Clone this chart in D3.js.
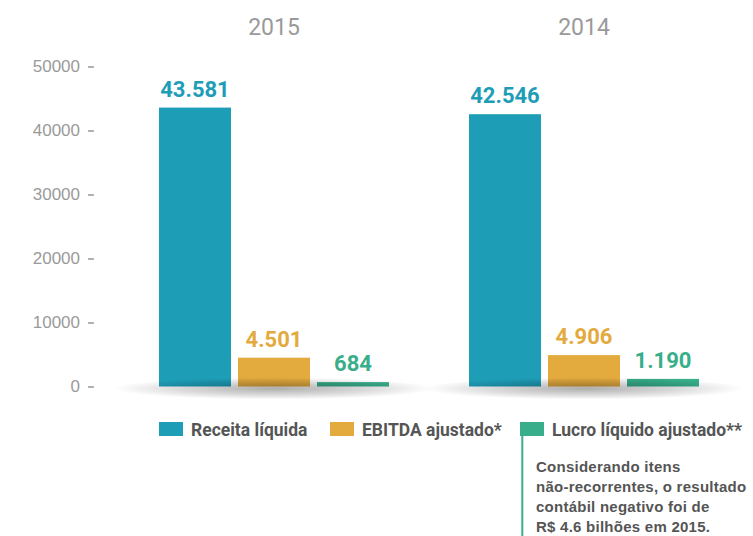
<!DOCTYPE html>
<html><head><meta charset="utf-8">
<script src="https://cdn.jsdelivr.net/npm/d3@7"></script>
<style>
html,body{margin:0;padding:0;background:#fff;}
svg{display:block;}
</style></head>
<body>
<svg id="chart" width="753" height="536"></svg>
<script>
const years = ["2015", "2014"];
const series = ["Receita líquida", "EBITDA ajustado*", "Lucro líquido ajustado**"];
const values2015 = [43581, 4501, 684];
const values2014 = [42546, 4906, 1190];
const valueLabels2015 = ["43.581", "4.501", "684"];
const valueLabels2014 = ["42.546", "4.906", "1.190"];
const colors = ["#1e9db7", "#e3aa3e", "#38ae8a"];
const yTicks = [0, 10000, 20000, 30000, 40000, 50000];
const noteLines = ["Considerando itens", "não-recorrentes, o resultado", "contábil negativo foi de", "R$ 4.6 bilhões em 2015."];

const svg = d3.select("#chart");
const defs = svg.append("defs");
const grad = defs.append("radialGradient").attr("id", "shadow");
grad.append("stop").attr("offset", "0%").attr("stop-color", "#000").attr("stop-opacity", 0.32);
grad.append("stop").attr("offset", "60%").attr("stop-color", "#000").attr("stop-opacity", 0.14);
grad.append("stop").attr("offset", "100%").attr("stop-color", "#000").attr("stop-opacity", 0);

const y = d3.scaleLinear().domain([0, 50000]).range([386.5, 66.5]);
const x0 = d3.scaleBand().domain(years).range([119, 739]).paddingInner(80/310).paddingOuter(40/310);
const x1 = d3.scaleBand().domain(series).range([0, x0.bandwidth()]).paddingInner(7/79);

// y axis
const yAxis = d3.axisLeft(y).tickValues(yTicks).tickSize(6).tickPadding(8).tickFormat(d3.format("d"));
const ga = svg.append("g").attr("transform", "translate(94,0)").call(yAxis);
ga.select(".domain").remove();
ga.selectAll(".tick line").attr("stroke", "#9a9a9a").attr("stroke-width", 1.5);
ga.selectAll(".tick text").attr("fill", "#9a9a9a").style("font-family", "'Liberation Sans', Arial, sans-serif").style("font-size", "17px");

// year titles
svg.selectAll("text.year").data(years).join("text").attr("class", "year")
  .attr("x", d => x0(d) + x0.bandwidth()/2).attr("y", 35)
  .attr("text-anchor", "middle").attr("fill", "#9a9a9a")
  .style("font-family", "Roboto, sans-serif").style("font-size", "23px").text(d => d);

const data = years.map((yr, i) => ({
  year: yr,
  vals: (i === 0 ? values2015 : values2014).map((v, j) => ({
    s: series[j], v: v, label: (i === 0 ? valueLabels2015 : valueLabels2014)[j], c: colors[j]
  }))
}));

const groups = svg.selectAll("g.grp").data(data).join("g").attr("class", "grp")
  .attr("transform", d => `translate(${x0(d.year)},0)`);

groups.selectAll("rect.bar").data(d => d.vals).join("rect").attr("class", "bar")
  .attr("x", d => x1(d.s)).attr("width", x1.bandwidth())
  .attr("y", d => y(d.v)).attr("height", d => y(0) - y(d.v))
  .attr("fill", d => d.c);

groups.selectAll("text.val").data(d => d.vals).join("text").attr("class", "val")
  .attr("x", d => x1(d.s) + x1.bandwidth()/2).attr("y", d => y(d.v) - 11)
  .attr("text-anchor", "middle").attr("fill", d => d.c)
  .style("font-family", "Roboto, sans-serif").style("font-weight", "700").style("font-size", "22px")
  .text(d => d.label);

// shadows
groups.append("ellipse")
  .attr("cx", x0.bandwidth()/2).attr("cy", y(0) + 2)
  .attr("rx", 160).attr("ry", 11)
  .attr("fill", "url(#shadow)");

// legend
const legendX = [159, 330, 520];
const leg = svg.selectAll("g.leg").data(series).join("g").attr("class", "leg")
  .attr("transform", (d, i) => `translate(${legendX[i]},422)`);
leg.append("rect").attr("width", 24).attr("height", 14).attr("fill", (d, i) => colors[i]);
leg.append("text").attr("x", 32).attr("y", 14).attr("fill", "#555")
  .style("font-family", "Roboto, sans-serif").style("font-weight", "700").style("font-size", "17.5px")
  .text(d => d);

// note
svg.append("line").attr("x1", 522.3).attr("x2", 522.3).attr("y1", 436).attr("y2", 536)
  .attr("stroke", colors[2]).attr("stroke-width", 2);
svg.selectAll("text.note").data(noteLines).join("text").attr("class", "note")
  .attr("x", 536).attr("y", (d, i) => 471.5 + i * 20.3)
  .attr("fill", "#555")
  .style("font-family", "'Liberation Sans', Arial, sans-serif").style("font-weight", "700").style("font-size", "15px")
  .style("letter-spacing", "0.25px")
  .text(d => d);
</script>
</body></html>
